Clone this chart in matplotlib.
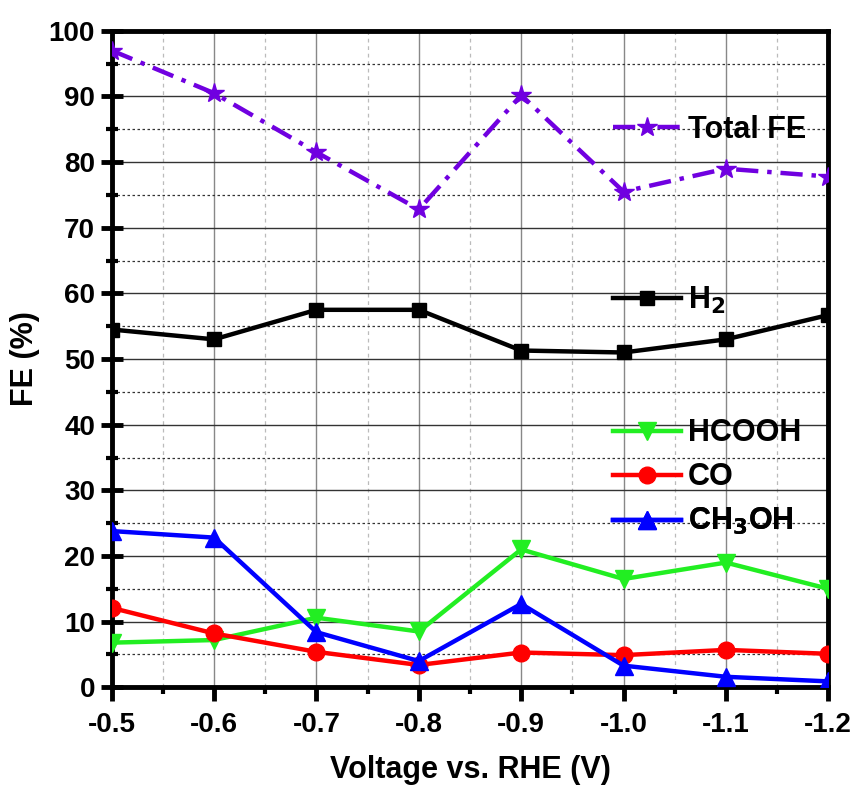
import matplotlib.pyplot as plt
from matplotlib.ticker import MultipleLocator, FormatStrFormatter

plt.rcParams['font.family'] = ['Liberation Sans', 'DejaVu Sans']
plt.rcParams['font.weight'] = 'bold'

# dados
voltagem = [-0.5, -0.6, -0.7, -0.8, -0.9, -1.0, -1.1, -1.2]
total_fe = [97.0, 90.5, 81.5, 72.8, 90.2, 75.5, 79.0, 77.8]
h2 = [54.5, 53.0, 57.5, 57.5, 51.3, 51.0, 53.0, 56.7]
hcooh = [6.8, 7.2, 10.6, 8.5, 21.0, 16.5, 19.0, 15.0]
co = [12.1, 8.2, 5.4, 3.4, 5.3, 4.9, 5.7, 5.1]
ch3oh = [23.8, 22.8, 8.4, 4.0, 12.7, 3.3, 1.6, 0.9]

fig = plt.figure(figsize=(8.53, 7.90), dpi=100)
ax = fig.add_axes([0.131, 0.130, 0.840, 0.831])

lw = 3.2
l_tot, = ax.plot(voltagem, total_fe, color='#7000e0', lw=lw, ls=(0, (5, 2, 1, 2)),
                 marker='*', ms=15, label='Total FE', zorder=5)
l_h2, = ax.plot(voltagem, h2, color='black', lw=lw, marker='s', ms=10, label='H$_2$', zorder=5)
l_hc, = ax.plot(voltagem, hcooh, color='#22ee22', lw=lw, marker='v', ms=13, label='HCOOH', zorder=5)
l_co, = ax.plot(voltagem, co, color='#ff0000', lw=lw, marker='o', ms=12, label='CO', zorder=5)
l_me, = ax.plot(voltagem, ch3oh, color='#0000ff', lw=lw, marker='^', ms=13, label='CH$_3$OH', zorder=5)

ax.set_xlim(-0.5, -1.2)
ax.set_ylim(0, 100)
ax.xaxis.set_major_locator(MultipleLocator(0.1))
ax.xaxis.set_minor_locator(MultipleLocator(0.05))
ax.yaxis.set_major_locator(MultipleLocator(10))
ax.yaxis.set_minor_locator(MultipleLocator(5))
ax.xaxis.set_major_formatter(FormatStrFormatter('%.1f'))

# grade
ax.grid(which='major', axis='x', color='#888888', lw=1.0)
ax.grid(which='minor', axis='x', color='#bbbbbb', lw=0.9, ls=(0, (3, 3)))
ax.grid(which='major', axis='y', color='#333333', lw=1.0)
ax.grid(which='minor', axis='y', color='#333333', lw=0.9, ls=(0, (2, 2)))
ax.set_axisbelow(True)

for s in ax.spines.values():
    s.set_linewidth(3.5)

ax.tick_params(axis='y', which='major', direction='inout', length=16, width=3.5,
               labelsize=20, pad=4)
ax.tick_params(axis='y', which='minor', direction='inout', length=9, width=3)
ax.tick_params(axis='x', which='major', direction='out', length=10, width=3.5,
               labelsize=20, pad=8)
ax.tick_params(axis='x', which='minor', direction='out', length=5, width=3)
for lab in ax.get_xticklabels() + ax.get_yticklabels():
    lab.set_fontweight('bold')

ax.set_xlabel('Voltage vs. RHE (V)', fontsize=22, fontweight='bold', labelpad=12)
ax.set_ylabel('FE (%)', fontsize=22, fontweight='bold', labelpad=6)

# legendas separadas
def legenda(linha, y):
    lg = ax.legend(handles=[linha], loc='center left', bbox_to_anchor=(0.70, y),
                   frameon=False, fontsize=22, handlelength=2.2, handletextpad=0.25,
                   borderpad=0, borderaxespad=0)
    for t in lg.get_texts():
        t.set_fontweight('bold')
    ax.add_artist(lg)

legenda(l_tot, 0.849)
legenda(l_h2, 0.590)
legenda(l_hc, 0.387)
legenda(l_co, 0.320)
legenda(l_me, 0.252)

fig.savefig('out.png', dpi=100)
